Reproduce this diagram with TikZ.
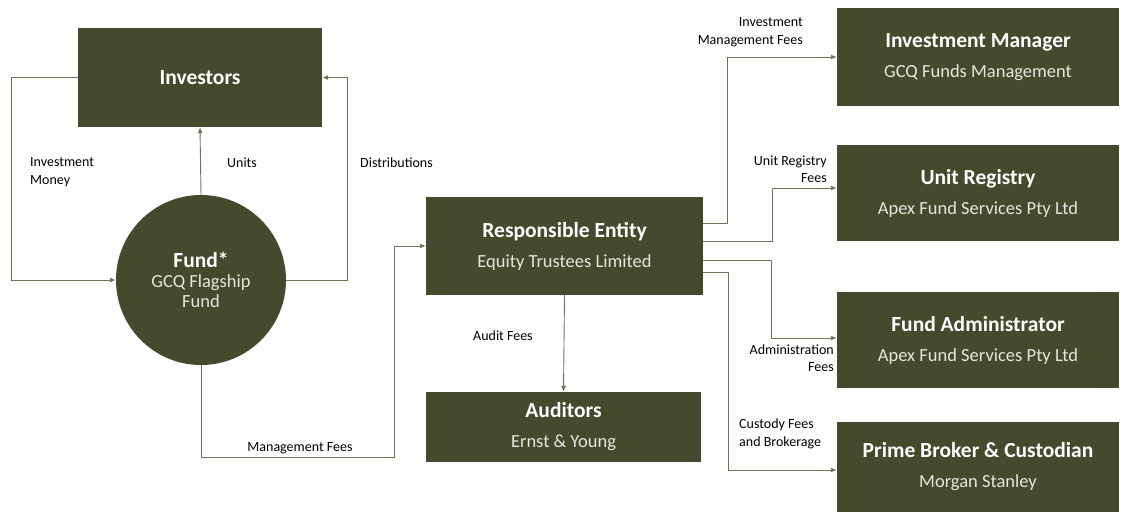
\documentclass[tikz,border=0pt]{standalone}
\usepackage{fontspec}
\setmainfont{Carlito}
\usepackage{tikz}
\usetikzlibrary{arrows.meta, calc}
\definecolor{olive}{HTML}{444A2C}
\definecolor{wire}{HTML}{6E7456}
\definecolor{subtext}{HTML}{E6E6DE}
\newcommand{\boxtitle}[2]{{\bfseries\fontsize{21.5}{22}\selectfont #1}\\[10pt]{\color{subtext}\fontsize{18.5}{19}\selectfont #2}}

\begin{document}
\begin{tikzpicture}[x=1pt, y=-1pt,
  party/.style={rectangle, fill=olive, text=white, align=center, inner sep=0pt, font=\fontsize{18.5}{20}\selectfont},
  flow/.style={draw=wire, line width=0.9pt, -{Latex[length=6pt,width=5pt]}},
  note/.style={font=\fontsize{14}{17.5}\selectfont, text=black, inner sep=0pt}]
\useasboundingbox (0,0) rectangle (1124,515);

% parties
\node[party, minimum width=244, minimum height=99] (inv) at (200,77.5) {\bfseries\fontsize{21.5}{22}\selectfont Investors};
\node[party, circle, minimum size=170] (fund) at (201,280) {{\bfseries\fontsize{21.5}{22}\selectfont Fund*}\\{\color{subtext}GCQ Flagship}\\{\color{subtext}Fund}};
\node[party, minimum width=277, minimum height=98] (re) at (564.5,246) {\boxtitle{Responsible Entity}{Equity Trustees Limited}};
\node[party, minimum width=275, minimum height=70] (aud) at (563.5,427) {\boxtitle{Auditors}{Ernst \& Young}};
\node[party, minimum width=282, minimum height=98] (im) at (978,57) {\boxtitle{Investment Manager}{GCQ Funds Management}};
\node[party, minimum width=282, minimum height=96] (ur) at (978,193) {\boxtitle{Unit Registry}{Apex Fund Services Pty Ltd}};
\node[party, minimum width=282, minimum height=96] (fa) at (978,340) {\boxtitle{Fund Administrator}{Apex Fund Services Pty Ltd}};
\node[party, minimum width=282, minimum height=90] (pb) at (978,467) {\boxtitle{Prime Broker \& Custodian}{Morgan Stanley}};

% money and units
\draw[flow] (inv.west) -- ++(-66,0) |- (fund.west);
\draw[flow] (fund.north) -- (inv.south);
\draw[flow] (fund.east) -- ++(61,0) |- (inv.east);
\draw[flow] (fund.south) -- ++(0,92) -| ($(re.west)+(-31,0)$) -- (re.west);
\draw[flow] (re.south) -- (aud.north);

% fees paid by the responsible entity
\draw[flow] ($(re.east)+(0,-23)$) -- ++(24,0) |- (im.west);
\draw[flow] ($(re.east)+(0,-5)$) -- ++(69,0) |- ($(ur.west)+(0,-5)$);
\draw[flow] ($(re.east)+(0,14)$) -- ++(68,0) |- ($(fa.west)+(0,-2)$);
\draw[flow] ($(re.east)+(0,26)$) -- ++(25,0) |- ($(pb.west)+(0,3)$);

% labels
\node[note, anchor=west, align=left] (lmoney) at (30,172) {Investment\\Money};
\node[note, anchor=west] (lunits) at (227,163) {Units};
\node[note, anchor=west] (ldist) at (360,163) {Distributions};
\node[note] (lmgmt) at (300,448) {Management Fees};
\node[note, anchor=west] (laudit) at (473,336) {Audit Fees};
\node[note, anchor=east, align=right] (lim) at (803,32) {Investment\\Management Fees};
\node[note, anchor=east, align=right] (lur) at (827,169) {Unit Registry\\Fees};
\node[note, anchor=east, align=right] (lfa) at (834,358) {Administration\\Fees};
\node[note, anchor=west, align=left] (lpb) at (739,434) {Custody Fees\\and Brokerage};
\end{tikzpicture}
\end{document}
